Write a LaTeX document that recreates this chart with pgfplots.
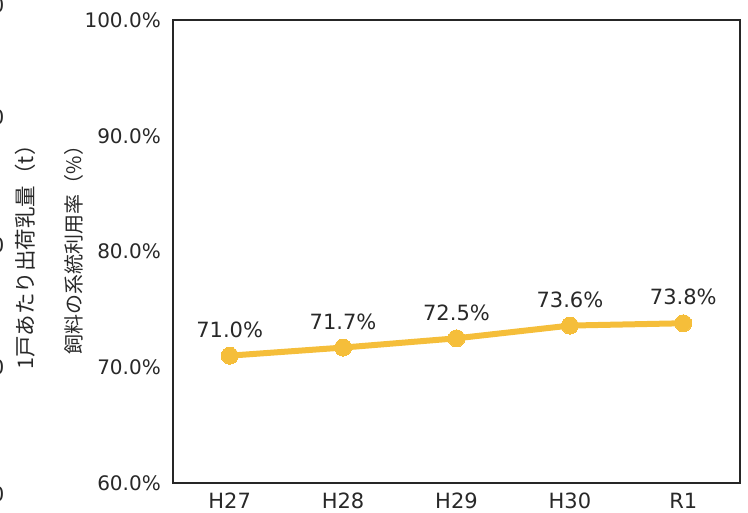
\documentclass[border=0pt]{standalone}
\usepackage{pgfplots}
\pgfplotsset{compat=1.18}
\usepackage{fontspec}
\setmainfont{Noto Sans CJK JP}
\newfontfamily\numfont{DejaVu Sans}
\definecolor{gold}{RGB}{245,190,58}
\definecolor{txt}{RGB}{40,40,40}
\begin{document}
\begin{tikzpicture}
\begin{axis}[
  name=ax, at={(0,0)}, anchor=south west,
  scale only axis, width=567pt, height=463pt,
  xmin=-0.5, xmax=4.5, ymin=60, ymax=100,
  xtick={0,1,2,3,4}, xticklabels={H27,H28,H29,H30,R1},
  ytick={60,70,80,90,100},
  yticklabel={\pgfmathprintnumber[fixed,fixed zerofill,precision=1]{\tick}\%},
  /pgf/number format/assume math mode=true,
  major tick length=0pt,
  axis line style={line width=1.6pt, black!85},
  tick label style={font=\numfont\fontsize{20}{22}\selectfont, text=txt},
  yticklabel style={inner sep=0pt, xshift=-12pt},
  xticklabel style={inner sep=0pt, yshift=-10pt, font=\numfont\fontsize{21}{23}\selectfont},
  clip=false,
]
\addplot[color=gold, line width=6pt, mark=*, mark size=8.5pt,
  mark options={fill=gold, draw=gold, line width=0pt},
  nodes near coords={\pgfmathprintnumber[fixed,fixed zerofill,precision=1]{\pgfplotspointmeta}\%},
  every node near coord/.style={font=\numfont\fontsize{21}{23}\selectfont, text=txt, anchor=south, inner sep=0pt, yshift=18pt},
] coordinates {(0,71.0) (1,71.7) (2,72.5) (3,73.6) (4,73.8)};
\end{axis}
\coordinate (O) at ([shift={(-173pt,-30pt)}]ax.south west);
\pgfresetboundingbox
\useasboundingbox (O) rectangle ([shift={(748pt,513pt)}]O);
\node[rotate=90, font=\fontsize{20}{22}\selectfont, text=txt] at ([shift={(74pt,268pt)}]O) {飼料の系統利用率（\%）};
\node[rotate=90, font=\fontsize{21.5}{23}\selectfont, text=txt] at ([shift={(25pt,261pt)}]O) {1戸あたり出荷乳量（t）};
\foreach \yy in {508,396,268,146,19} {
  \node[font=\numfont\fontsize{20}{22}\selectfont, text=txt] at ([shift={(-2pt,\yy pt)}]O) {0};
}
\end{tikzpicture}
\end{document}
